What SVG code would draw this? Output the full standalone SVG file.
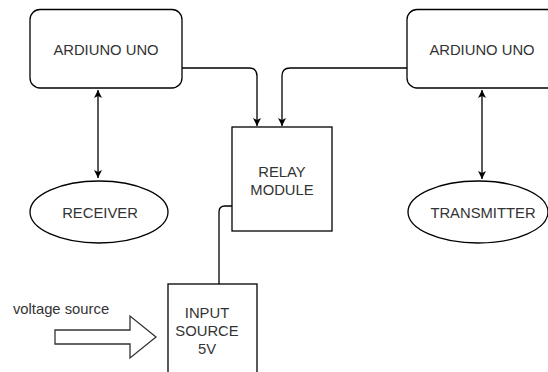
<svg xmlns="http://www.w3.org/2000/svg" width="548" height="372" viewBox="0 0 548 372">
<defs>
<style>
.shape{fill:#fff;stroke:#000;stroke-width:1.3}
.conn{fill:none;stroke:#000;stroke-width:1.3}
.lbl{font-family:"Liberation Sans",Arial,sans-serif;font-size:14.8px;fill:#333;text-anchor:middle;dominant-baseline:central}
</style>
<marker id="ah" markerWidth="10" markerHeight="10" refX="9" refY="5" orient="auto-start-reverse" markerUnits="userSpaceOnUse">
<path d="M1,1 L9,5 L1,9 L3,5 Z" fill="#000"/>
</marker>
</defs>
<rect width="548" height="372" fill="#fff"/>
<g id="connectors">
<path class="conn" d="M182,68 H249 Q257,68 257,76 V126" marker-end="url(#ah)"/>
<path class="conn" d="M407,68 H290 Q282,68 282,76 V126" marker-end="url(#ah)"/>
<path class="conn" d="M98,90 V178" marker-start="url(#ah)" marker-end="url(#ah)"/>
<path class="conn" d="M482,90 V179" marker-start="url(#ah)" marker-end="url(#ah)"/>
<path class="conn" d="M232,206 H225 Q219,206 219,212 V284"/>
</g>
<g id="arduino-left">
<rect class="shape" x="30" y="9.5" width="152" height="78.5" rx="10"/>
<text class="lbl" x="106" y="50">ARDIUNO UNO</text>
</g>
<g id="arduino-right">
<rect class="shape" x="407" y="9.5" width="152" height="78.5" rx="10"/>
<text class="lbl" x="482" y="50">ARDIUNO UNO</text>
</g>
<g id="receiver">
<ellipse class="shape" cx="99" cy="212" rx="69" ry="31"/>
<text class="lbl" x="100" y="213">RECEIVER</text>
</g>
<g id="transmitter">
<ellipse class="shape" cx="478" cy="212" rx="70" ry="31"/>
<text class="lbl" x="483" y="213">TRANSMITTER</text>
</g>
<g id="relay">
<rect class="shape" x="232" y="127" width="100" height="104"/>
<text class="lbl" x="282" y="172">RELAY</text>
<text class="lbl" x="282" y="190">MODULE</text>
</g>
<g id="input-source">
<rect class="shape" x="168" y="284" width="89" height="100"/>
<text class="lbl" x="207" y="313">INPUT</text>
<text class="lbl" x="207" y="331">SOURCE</text>
<text class="lbl" x="207" y="349">5V</text>
</g>
<g id="voltage-source">
<text class="lbl" x="61" y="309">voltage source</text>
<path class="shape" d="M55,330 H130 V316 L156,337 L130,358 V344 H55 Z" style="stroke:#333"/>
</g>
</svg>
